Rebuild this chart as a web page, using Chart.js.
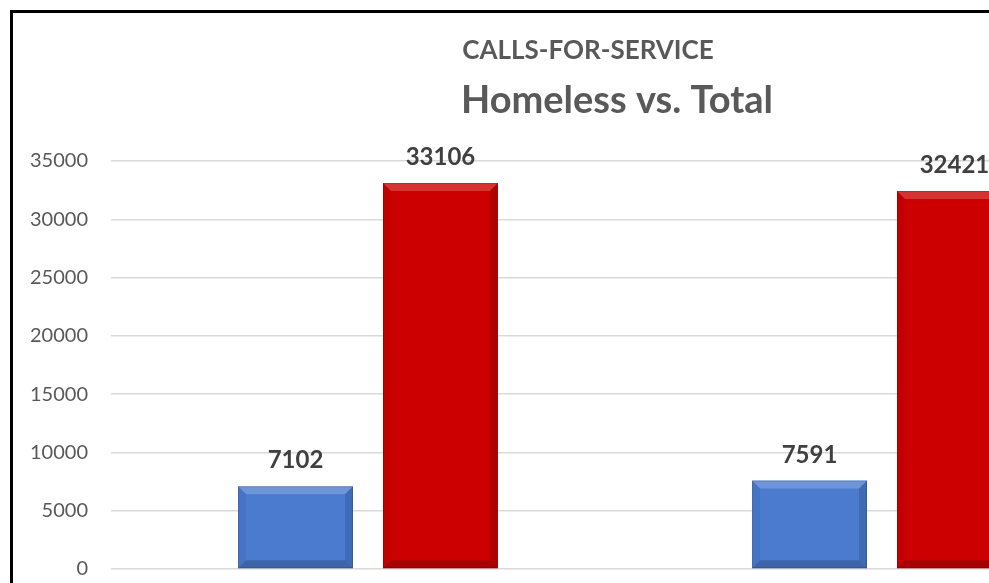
<!DOCTYPE html>
<html>
<head>
<meta charset="utf-8">
<script src="https://cdn.jsdelivr.net/npm/chart.js@4"></script>
<style>
  html, body { margin: 0; padding: 0; background: #fff; overflow: hidden; }
  #frame {
    position: absolute;
    left: 10px;
    top: 10px;
    width: 1150px;
    height: 600px;
    border-left: 3px solid #000;
    border-top: 3px solid #000;
  }
  #chart { display: block; }
</style>
</head>
<body>
<div id="frame">
  <canvas id="chart" width="1150" height="600"></canvas>
</div>
<script>
// calls-for-service counts per period
const periods = ['Period 1', 'Period 2'];
const homelessCalls = [7102, 7591];
const totalCalls = [33106, 32421];
const yTicks = [0, 5000, 10000, 15000, 20000, 25000, 30000, 35000];

const titleLine = 'CALLS-FOR-SERVICE';
const subTitleLine = 'Homeless vs. Total';

// bevelled edges on every bar, like the old 3-D office bars
const bevelBars = {
  id: 'bevelBars',
  afterDatasetsDraw(chart) {
    const ctx = chart.ctx;
    const b = 8;
    chart.data.datasets.forEach((ds, i) => {
      chart.getDatasetMeta(i).data.forEach(bar => {
        const l = bar.x - bar.width / 2;
        const r = bar.x + bar.width / 2;
        const t = bar.y;
        const btm = bar.base;
        const quad = (pts, fill) => {
          ctx.beginPath();
          ctx.moveTo(pts[0][0], pts[0][1]);
          pts.slice(1).forEach(p => ctx.lineTo(p[0], p[1]));
          ctx.closePath();
          ctx.fillStyle = fill;
          ctx.fill();
        };
        ctx.save();
        quad([[l, t], [r, t], [r - b, t + b], [l + b, t + b]], 'rgba(255,255,255,0.2)');
        quad([[l, t], [l + b, t + b], [l + b, btm - b], [l, btm]], 'rgba(0,0,0,0.05)');
        quad([[r, t], [r - b, t + b], [r - b, btm - b], [r, btm]], 'rgba(0,0,0,0.13)');
        quad([[l, btm], [l + b, btm - b], [r - b, btm - b], [r, btm]], 'rgba(0,0,0,0.18)');
        ctx.strokeStyle = 'rgba(0,0,0,0.15)';
        ctx.lineWidth = 1;
        ctx.strokeRect(l + 0.5, t + 0.5, bar.width - 1, btm - t - 1);
        ctx.restore();
      });
    });
  }
};

// value above each bar
const valueLabels = {
  id: 'valueLabels',
  afterDatasetsDraw(chart) {
    const ctx = chart.ctx;
    ctx.save();
    ctx.font = 'bold 24px Lato';
    ctx.fillStyle = '#404040';
    ctx.textAlign = 'center';
    ctx.textBaseline = 'alphabetic';
    chart.data.datasets.forEach((ds, i) => {
      chart.getDatasetMeta(i).data.forEach((bar, j) => {
        ctx.fillText(String(ds.data[j]), bar.x, bar.y - 18);
      });
    });
    ctx.restore();
  }
};

// two-line heading over the plot
const heading = {
  id: 'heading',
  afterDraw(chart) {
    const ctx = chart.ctx;
    ctx.save();
    ctx.fillStyle = '#595959';
    ctx.textAlign = 'center';
    ctx.textBaseline = 'alphabetic';
    ctx.font = 'bold 26px Lato';
    ctx.fillText(titleLine, 575, 46);
    ctx.font = 'bold 38px Lato';
    ctx.fillText(subTitleLine, 604, 100);
    ctx.restore();
  }
};

new Chart(document.getElementById('chart'), {
  type: 'bar',
  data: {
    labels: periods,
    datasets: [
      {
        label: 'Homeless',
        data: homelessCalls,
        backgroundColor: '#4a7bcf',
        categoryPercentage: 0.564,
        barPercentage: 0.793
      },
      {
        label: 'Total',
        data: totalCalls,
        backgroundColor: '#cc0000',
        categoryPercentage: 0.564,
        barPercentage: 0.793
      }
    ]
  },
  options: {
    responsive: false,
    animation: false,
    devicePixelRatio: 1,
    layout: { padding: { top: 148, right: 24, bottom: 44, left: 0 } },
    plugins: {
      legend: { display: false },
      title: { display: false },
      tooltip: { enabled: false }
    },
    scales: {
      x: { display: false },
      y: {
        min: 0,
        max: 35000,
        afterFit: s => { s.width = 98; },
        afterBuildTicks: s => { s.ticks = yTicks.map(v => ({ value: v })); },
        border: { display: false },
        grid: { color: '#d9d9d9', lineWidth: 1.5, drawTicks: false },
        ticks: {
          padding: 23,
          color: '#595959',
          font: { family: 'Lato', size: 20 },
          callback: v => String(v)
        }
      }
    }
  },
  plugins: [bevelBars, valueLabels, heading]
});
</script>
</body>
</html>
